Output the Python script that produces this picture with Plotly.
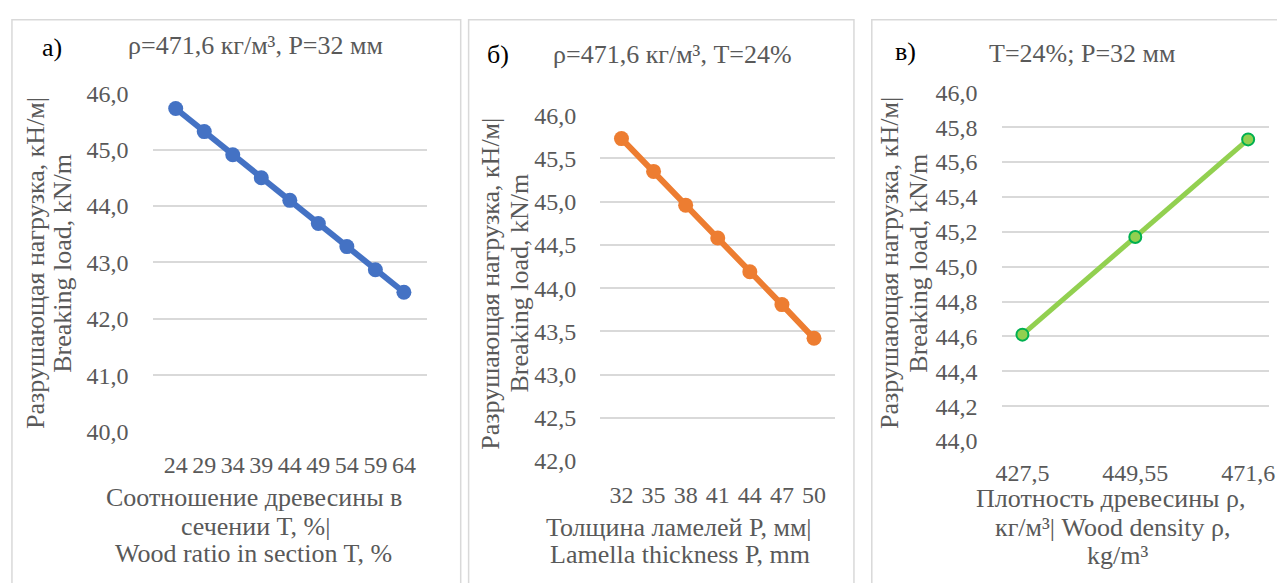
import plotly.graph_objects as go

# ---------------- data ----------------
t_ratio = ["24", "29", "34", "39", "44", "49", "54", "59", "64"]
load_a = [45.73, 45.32, 44.91, 44.50, 44.10, 43.69, 43.28, 42.87, 42.47]

p_thick = ["32", "35", "38", "41", "44", "47", "50"]
load_b = [45.73, 45.35, 44.96, 44.58, 44.19, 43.81, 43.42]

density = ["427,5", "449,55", "471,6"]
load_c = [44.61, 45.17, 45.73]

W, H = 1277, 583
FONT = "Liberation Serif, 'Times New Roman', serif"
FS = 26
TFS = 24
GRAY = "#595959"
GRID = "#d9d9d9"


def px(x):
    return x / W


def py(y):
    return 1 - y / H


fig = go.Figure()

fig.add_trace(go.Scatter(x=t_ratio, y=load_a, mode="lines+markers",
                         line=dict(color="#4472c4", width=6),
                         marker=dict(color="#4472c4", size=15),
                         xaxis="x", yaxis="y", showlegend=False))
fig.add_trace(go.Scatter(x=p_thick, y=load_b, mode="lines+markers",
                         line=dict(color="#ed7d31", width=6),
                         marker=dict(color="#ed7d31", size=15),
                         xaxis="x2", yaxis="y2", showlegend=False))
fig.add_trace(go.Scatter(x=density, y=load_c, mode="lines+markers",
                         line=dict(color="#92d050", width=5),
                         marker=dict(color="#92d050", size=12,
                                     line=dict(color="#00b050", width=2)),
                         xaxis="x3", yaxis="y3", showlegend=False))

tickfont = dict(family=FONT, size=TFS, color=GRAY)


def xax(x0, x1, standoff):
    return dict(domain=[px(x0), px(x1)], type="category", showgrid=False,
                showline=False, zeroline=False, ticks="",
                tickmode="linear", tick0=0, dtick=1, tickangle=0,
                tickfont=tickfont, ticklabelstandoff=standoff,
                fixedrange=True)


def yax(y0, y1, rng, dtick, anchor, standoff):
    return dict(domain=[py(y1), py(y0)], range=rng, dtick=dtick,
                tick0=rng[0], tickformat=".1f", showgrid=True,
                gridcolor=GRID, gridwidth=2, zeroline=False,
                showline=False, ticks="", tickfont=tickfont,
                ticklabelstandoff=standoff, anchor=anchor,
                fixedrange=True)


fig.update_layout(
    width=W, height=H,
    margin=dict(l=0, r=0, t=0, b=0),
    paper_bgcolor="white", plot_bgcolor="white",
    separators=", ",
    xaxis=dict(**xax(148, 425, 17), anchor="y"),
    yaxis=yax(84, 438, [40, 46], 1, "x", 23),
    xaxis2=dict(**xax(600, 837, 17), anchor="y2"),
    yaxis2=yax(107, 469, [42, 46], 0.5, "x2", 23),
    xaxis3=dict(**xax(1005, 1275, 15), anchor="y3"),
    yaxis3=yax(83, 448, [44, 46], 0.2, "x3", 23),
)

# panel borders
for x0, x1 in [(6, 459), (467, 856), (874, 1290)]:
    fig.add_shape(type="rect", xref="paper", yref="paper",
                  x0=px(x0), x1=px(x1), y0=py(600), y1=py(7),
                  line=dict(color=GRID, width=1.5), layer="below")


def ann(text, x, y, color=GRAY, size=FS, angle=0):
    fig.add_annotation(text=text, x=px(x), y=py(y), xref="paper",
                       yref="paper", showarrow=False, xanchor="center",
                       yanchor="middle", textangle=angle,
                       font=dict(family=FONT, size=size, color=color))


# panel letters and titles
ann("а)", 46, 36, color="black")
ann("ρ=471,6 кг/м³, P=32 мм", 252, 34)
ann("б)", 497, 43, color="black")
ann("ρ=471,6 кг/м³, T=24%", 673, 43)
ann("в)", 908, 40, color="black")
ann("T=24%; P=32 мм", 1086, 42)

# y-axis titles
ytitle1 = "Разрушающая нагрузка, кН/м|"
ytitle2 = "Breaking load, kN/m"
for xa, xb, yc in [(30, 57, 262), (489, 518, 283), (892, 921, 262)]:
    ann(ytitle1, xa, yc, angle=-90)
    ann(ytitle2, xb, yc, angle=-90)

# x-axis titles
ann("Соотношение древесины в", 250, 507)
ann("сечении T, %|", 252, 537)
ann("Wood ratio in section T, %", 250, 566)

ann("Толщина ламелей P, мм|", 679, 538)
ann("Lamella thickness P, mm", 680, 567)

ann("Плотность древесины ρ,", 1115, 508)
ann("кг/м³| Wood density ρ,", 1117, 538)
ann("kg/m³", 1122, 568)

fig.write_html(
    "out.html",
    config={"displayModeBar": False, "staticPlot": True},
    post_script=(
        "document.documentElement.style.margin='0';"
        "document.documentElement.style.overflow='hidden';"
        "document.body.style.margin='0';"
        "document.body.style.overflow='hidden';"
        "var gd=document.getElementById('{plot_id}');"
        "gd.style.position='fixed';gd.style.left='0px';gd.style.top='0px';"
    ),
)
